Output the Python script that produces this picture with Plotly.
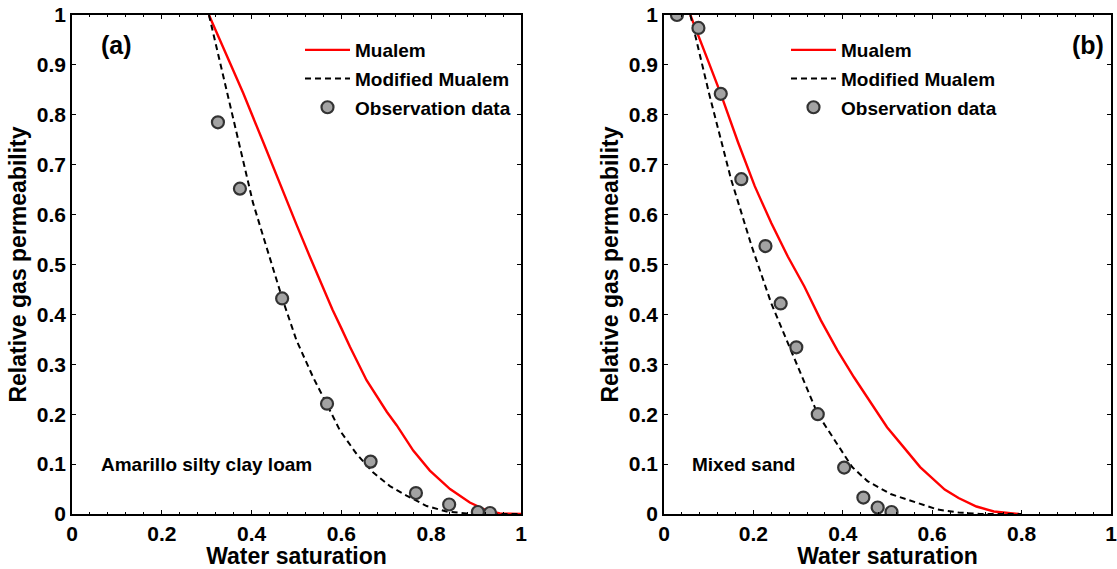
import plotly.graph_objects as go

# ---------------- data: panel (a) Amarillo silty clay loam ----------------
mualem_a_x = [0.305, 0.352, 0.381, 0.426, 0.470, 0.500, 0.530, 0.560, 0.580, 0.600, 0.619,
              0.656, 0.701, 0.723, 0.760, 0.797, 0.842, 0.886, 0.924, 0.953, 1.0]
mualem_a_y = [1.0, 0.905, 0.844, 0.745, 0.645, 0.580, 0.515, 0.452, 0.410, 0.372, 0.335,
              0.268, 0.205, 0.178, 0.127, 0.087, 0.050, 0.023, 0.007, 0.001, 0.0]

modified_a_x = [0.305, 0.332, 0.352, 0.367, 0.381, 0.403, 0.426, 0.448, 0.469, 0.500, 0.537,
                0.567, 0.597, 0.634, 0.671, 0.708, 0.745, 0.790, 0.834, 0.879, 0.920, 1.0]
modified_a_y = [1.0, 0.897, 0.818, 0.764, 0.704, 0.624, 0.556, 0.490, 0.430, 0.348, 0.274,
                0.221, 0.167, 0.120, 0.083, 0.056, 0.037, 0.016, 0.005, 0.001, 0.0, 0.0]

obs_a_x = [0.325, 0.374, 0.468, 0.568, 0.665, 0.766, 0.840, 0.904, 0.931]
obs_a_y = [0.785, 0.652, 0.432, 0.221, 0.105, 0.042, 0.019, 0.004, 0.002]

# ---------------- data: panel (b) Mixed sand ----------------
mualem_b_x = [0.059, 0.077, 0.100, 0.127, 0.166, 0.203, 0.240, 0.277, 0.314, 0.351, 0.388,
              0.425, 0.462, 0.499, 0.536, 0.573, 0.628, 0.659, 0.699, 0.738, 0.770, 0.794]
mualem_b_y = [1.0, 0.960, 0.905, 0.842, 0.744, 0.657, 0.583, 0.516, 0.456, 0.388, 0.328,
              0.274, 0.224, 0.174, 0.134, 0.094, 0.049, 0.032, 0.015, 0.005, 0.002, 0.0]

modified_b_x = [0.059, 0.066, 0.101, 0.150, 0.196, 0.240, 0.281, 0.344, 0.421, 0.455, 0.507,
                0.551, 0.573, 0.612, 0.659, 0.707, 0.800]
modified_b_y = [1.0, 0.974, 0.842, 0.671, 0.537, 0.422, 0.334, 0.200, 0.094, 0.066, 0.040,
                0.027, 0.020, 0.009, 0.003, 0.0, 0.0]

obs_b_x = [0.029, 0.077, 0.127, 0.173, 0.227, 0.261, 0.296, 0.344, 0.403, 0.446, 0.478, 0.509]
obs_b_y = [1.0, 0.974, 0.842, 0.671, 0.537, 0.422, 0.334, 0.200, 0.093, 0.033, 0.013, 0.004]

series_names = ["Mualem", "Modified Mualem", "Observation data"]
x_ticks = [0, 0.2, 0.4, 0.6, 0.8, 1]
y_ticks = [0, 0.1, 0.2, 0.3, 0.4, 0.5, 0.6, 0.7, 0.8, 0.9, 1]
x_title = "Water saturation"
y_title = "Relative gas permeability"
panel_labels = ["(a)", "(b)"]
soil_labels = ["Amarillo silty clay loam", "Mixed sand"]

FONT = "Liberation Sans, Arial, sans-serif"

fig = go.Figure()

panels = [
    (mualem_a_x, mualem_a_y, modified_a_x, modified_a_y, obs_a_x, obs_a_y, "x", "y", "legend", "a"),
    (mualem_b_x, mualem_b_y, modified_b_x, modified_b_y, obs_b_x, obs_b_y, "x2", "y2", "legend2", "b"),
]
for mx, my, dx, dy, ox, oy, xa, ya, lg, tag in panels:
    fig.add_trace(go.Scatter(x=mx, y=my, mode="lines", name=series_names[0],
                             line=dict(color="#ff0000", width=2.4),
                             xaxis=xa, yaxis=ya, legend=lg, legendgroup=tag + "1"))
    fig.add_trace(go.Scatter(x=dx, y=dy, mode="lines", name=series_names[1],
                             line=dict(color="#000000", width=2, dash="6px,4px"),
                             xaxis=xa, yaxis=ya, legend=lg, legendgroup=tag + "2"))
    fig.add_trace(go.Scatter(x=ox, y=oy, mode="markers", name=series_names[2],
                             marker=dict(size=12, color="#a3a3a3",
                                         line=dict(color="#333333", width=2.2)),
                             xaxis=xa, yaxis=ya, legend=lg, legendgroup=tag + "3"))

tickfont = dict(family=FONT, size=21, color="black", weight="bold")
titlefont = dict(family=FONT, size=23, color="black", weight="bold")

def xaxis(domain, anchor):
    return dict(domain=domain, anchor=anchor, range=[0, 1], tickvals=x_ticks,
                ticks="inside", ticklen=4, tickwidth=1, tickcolor="black",
                minor=dict(dtick=0.04, ticks="inside", ticklen=2, tickcolor="black", tickwidth=1),
                showline=True, linecolor="black", linewidth=1.5, mirror="ticks",
                showgrid=False, zeroline=False, tickfont=tickfont, automargin=False,
                ticklabeloverflow="allow",
                title=dict(text=x_title, font=titlefont, standoff=0))

def yaxis(anchor):
    return dict(domain=[0, 1], anchor=anchor, range=[0, 1], tickvals=y_ticks,
                ticks="inside", ticklen=4, tickwidth=1, tickcolor="black",
                showline=True, linecolor="black", linewidth=1.5, mirror="ticks",
                showgrid=False, zeroline=False, tickfont=tickfont, automargin=False,
                ticklabeloverflow="allow",
                title=dict(text=y_title, font=titlefont, standoff=4))

W, H = 1117, 569
ml, mr, mt, mb = 72, 6, 15, 55
pw = W - ml - mr
ph = H - mt - mb
d1 = [0, 449 / pw]
d2 = [(664 - ml) / pw, 1.0]

legfont = dict(family=FONT, size=19, color="black", weight="bold")
fig.update_layout(
    width=W, height=H,
    margin=dict(l=ml, r=mr, t=mt, b=mb, autoexpand=False),
    paper_bgcolor="white", plot_bgcolor="white",
    xaxis=xaxis(d1, "y"), yaxis=yaxis("x"),
    xaxis2=xaxis(d2, "y2"), yaxis2=yaxis("x2"),
    legend=dict(x=(300 - ml) / pw, y=1 - (31 - mt) / ph, xanchor="left", yanchor="top",
                bgcolor="rgba(0,0,0,0)", font=legfont, tracegroupgap=1, itemwidth=45),
    legend2=dict(x=(786 - ml) / pw, y=1 - (31 - mt) / ph, xanchor="left", yanchor="top",
                 bgcolor="rgba(0,0,0,0)", font=legfont, tracegroupgap=1, itemwidth=45),
    annotations=[
        dict(text=panel_labels[0], x=0.1, y=0.94, xref="x", yref="y", showarrow=False,
             font=dict(family=FONT, size=25, color="black", weight="bold")),
        dict(text=panel_labels[1], x=0.948, y=0.94, xref="x2", yref="y2", showarrow=False,
             font=dict(family=FONT, size=25, color="black", weight="bold")),
        dict(text=soil_labels[0], x=0.06, y=0.1, xref="x", yref="y", xanchor="left",
             showarrow=False, font=dict(family=FONT, size=19, color="black", weight="bold")),
        dict(text=soil_labels[1], x=0.058, y=0.1, xref="x2", yref="y2", xanchor="left",
             showarrow=False, font=dict(family=FONT, size=19, color="black", weight="bold")),
    ],
)

fig.write_html("out.html")
